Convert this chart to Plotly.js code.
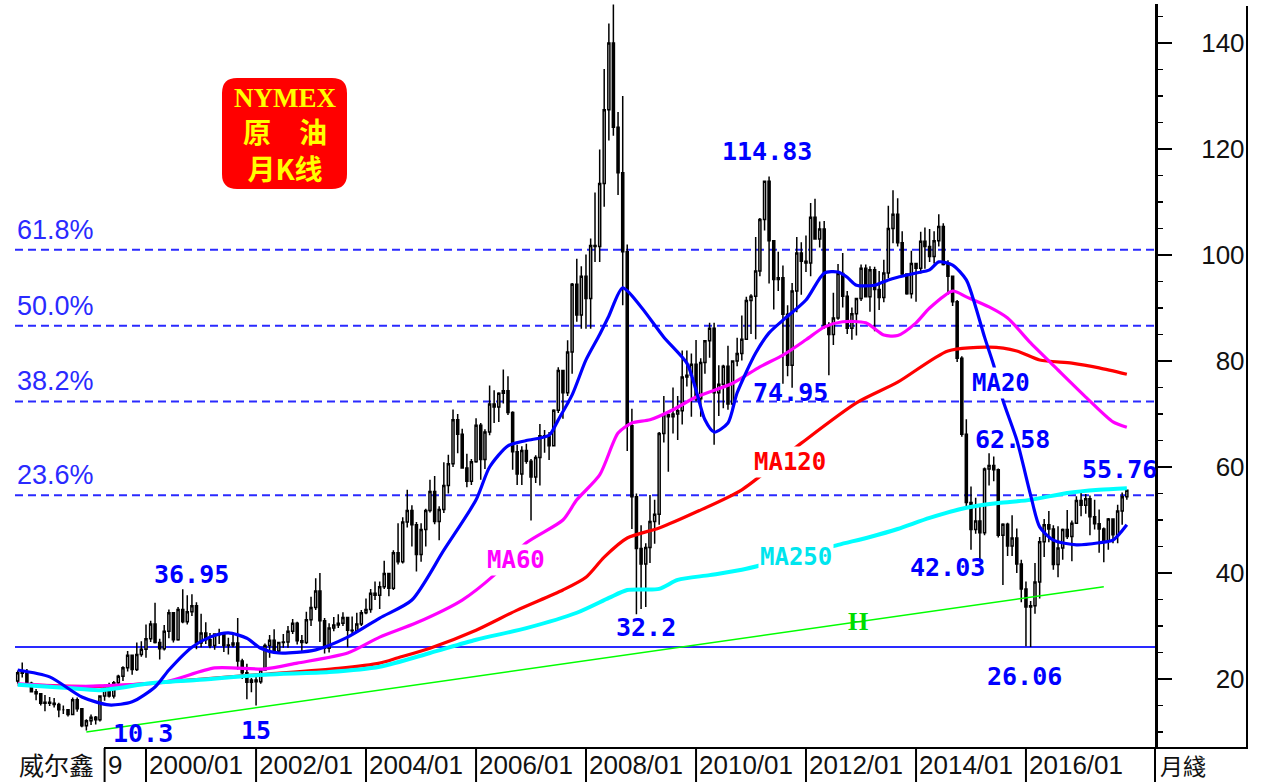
<!DOCTYPE html>
<html><head><meta charset="utf-8">
<script src="https://cdn.plot.ly/plotly-3.0.1.min.js"></script>
<style>html,body{margin:0;padding:0;background:#fff;}#chart{width:1264px;height:782px;}</style>
</head><body><div id="chart"></div>
<script>
// ---------------- DATA ----------------
const firstMonth = [1997, 9]; // first monthly candle: 1997/09
const opens = [
 19.6,21.2,21.1,19.2,
 17.6,17.2,15.4,15.6,15.4,15.2,14.2,14.2,13.3,16.1,14.4,11.2,
 12.1,12.8,12.3,16.8,18.7,16.8,19.3,20.5,22.1,24.5,21.8,24.6,
 25.6,27.6,30.4,26.9,25.7,29.0,32.5,27.4,33.1,30.8,32.7,33.8,
 26.8,28.7,27.4,26.3,28.5,28.4,26.3,26.4,26.8,23.4,21.2,19.4,
 19.8,19.5,21.7,26.3,27.3,25.3,26.9,27.0,29.0,30.5,27.2,26.9,
 31.2,33.5,36.6,31.0,25.8,29.6,30.2,30.5,31.6,29.2,29.1,30.4,
 32.5,33.1,36.2,35.8,37.4,39.9,37.1,43.8,42.1,49.6,51.8,49.1,
 43.5,48.2,51.8,55.4,49.7,52.0,56.5,60.6,68.9,66.2,59.8,57.3,
 61.0,67.9,61.4,66.6,71.9,71.3,73.9,74.4,70.3,62.9,58.7,63.1,
 61.1,58.1,61.8,65.9,65.7,64.0,70.7,78.2,74.0,81.7,94.5,88.7,
 96.0,91.8,101.8,101.6,113.5,127.4,140.0,124.1,115.5,100.6,67.8,54.4,
 44.6,41.7,44.8,49.7,51.1,66.3,69.9,69.5,70.0,70.6,77.0,77.3,
 79.4,72.9,79.7,83.8,86.2,74.0,75.6,79.0,71.9,80.0,81.4,84.1,
 91.4,92.2,97.0,106.7,113.9,102.7,95.4,95.7,88.8,79.2,93.2,100.4,
 98.8,98.5,107.1,103.0,104.9,86.5,85.0,88.1,96.5,92.2,86.2,88.9,
 91.8,97.5,92.1,97.2,93.5,92.0,96.6,105.0,107.7,102.3,96.4,92.7,
 98.4,97.5,102.6,101.6,99.7,102.7,105.4,98.2,96.0,91.2,80.5,66.2,
 53.3,48.2,49.8,47.6,59.6,60.3,59.5,47.1,49.2,45.1,46.6,41.7,
 37.0,33.6,33.8,38.3,45.9,49.1,48.3,41.6,44.7,48.2,46.9,49.4,
 53.7,52.8,54.0,50.6,49.3,48.3,46.0,50.2,47.2,51.7,54.4
];
const highs = [
 21.6,23.1,21.9,19.5,
 18.1,17.3,17.0,16.6,16.4,15.5,15.0,14.3,16.5,16.5,14.5,12.4,
 13.3,13.0,16.9,18.9,19.3,19.6,20.8,22.4,25.3,24.6,26.9,27.1,
 30.3,31.0,34.4,27.6,30.2,33.1,32.5,33.6,36.95,35.8,36.0,34.5,
 32.3,30.7,28.7,28.6,29.5,28.8,27.8,28.8,31.5,23.8,22.9,20.2,
 21.0,21.9,26.7,28.3,29.4,27.0,28.5,30.0,31.3,30.8,28.3,32.7,
 35.5,39.0,39.99,31.5,30.5,31.7,32.2,32.6,31.7,31.8,32.5,33.0,
 35.2,37.0,38.4,38.4,42.3,40.0,44.3,49.4,50.5,55.7,52.8,49.6,
 49.4,52.1,57.6,58.3,52.6,60.9,62.3,70.85,70.0,67.2,62.5,61.5,
 69.2,68.3,67.1,75.4,74.5,74.1,78.4,77.1,70.5,64.2,63.9,64.4,
 61.5,62.2,68.1,67.0,66.6,70.9,78.8,78.3,83.9,94.7,99.3,97.9,
 100.1,103.1,111.8,119.9,135.1,143.7,147.27,127.0,130.0,102.0,71.0,55.0,
 49.0,45.6,54.7,53.8,66.6,73.4,70.1,75.0,73.4,82.0,82.0,81.4,
 83.95,80.5,83.9,87.2,87.2,79.2,79.3,82.9,80.1,84.4,88.6,92.1,
 92.6,103.4,107.0,113.9,114.83,102.7,100.6,98.0,90.5,94.7,103.4,102.4,
 103.7,109.8,110.6,106.3,106.4,87.3,92.9,98.3,100.4,93.2,90.1,91.9,
 98.2,98.2,97.9,97.8,97.0,99.1,109.3,112.2,110.7,104.5,96.5,100.8,
 98.5,104.4,105.2,104.9,104.5,107.7,106.0,99.0,96.0,91.5,80.9,69.0,
 56.3,54.2,52.5,59.9,62.58,62.0,59.7,49.4,49.5,50.9,48.4,42.5,
 38.4,34.7,41.9,46.8,50.2,51.7,49.0,48.8,48.4,51.9,49.9,54.5,
 55.2,54.9,54.6,53.8,52.0,48.6,50.4,50.2,52.9,55.2,55.76
];
const lows = [
 19.1,20.3,18.9,17.5,
 16.0,15.0,13.9,14.9,14.6,12.8,13.4,12.9,13.2,13.8,10.9,10.3,
 11.3,11.4,12.0,15.9,16.5,16.3,19.0,19.6,21.4,20.8,21.5,24.2,
 24.0,27.0,26.7,23.7,25.4,27.7,26.9,27.2,30.5,30.3,31.9,25.6,
 26.0,26.6,25.8,25.5,26.6,25.1,24.6,26.0,21.8,20.0,16.2,17.5,
 15.0,19.1,21.6,24.0,24.8,24.7,25.9,25.9,28.5,26.5,25.0,26.6,
 30.0,33.0,27.0,24.8,25.0,29.0,29.6,30.0,26.0,28.4,28.7,30.0,
 32.2,32.5,34.9,33.2,37.0,35.6,36.8,41.6,41.8,48.6,45.0,40.3,
 42.1,45.0,51.4,49.2,46.2,51.3,55.0,60.0,62.6,59.8,56.2,56.6,
 60.8,57.6,59.6,66.0,68.3,68.5,72.0,69.8,59.5,56.6,56.6,60.6,
 49.9,57.0,56.5,62.7,61.3,64.0,70.2,69.1,73.4,77.6,87.4,86.1,
 86.1,86.1,98.7,98.7,109.1,121.6,122.5,111.3,90.5,63.0,48.3,32.2,
 33.2,33.6,41.9,45.5,49.1,64.6,59.1,66.3,65.1,68.0,75.2,69.5,
 72.4,69.5,77.6,80.6,64.2,69.6,71.1,70.8,70.8,79.0,80.1,84.1,
 85.1,84.1,96.0,104.6,94.6,89.7,93.2,75.7,77.1,74.95,89.2,92.5,
 96.8,96.0,102.9,101.4,86.1,77.3,83.0,87.8,90.1,85.1,84.0,84.8,
 91.3,92.0,89.3,85.6,89.6,91.1,95.6,102.2,101.6,96.1,92.5,91.8,
 91.2,96.5,97.4,98.7,98.4,101.6,98.0,92.5,90.4,79.8,65.7,52.4,
 44.4,47.4,42.03,47.1,56.5,57.3,46.7,37.75,43.2,43.2,40.0,34.5,
 26.19,26.06,32.3,35.2,43.0,45.8,40.6,39.2,42.5,46.4,42.2,49.4,
 50.7,51.2,47.1,48.2,43.8,42.05,44.4,45.6,45.6,49.1,53.8
];
const closes = [
 21.2,21.1,19.2,17.6,
 17.2,15.4,15.6,15.4,15.2,14.2,14.2,13.3,16.1,14.4,11.2,12.1,
 12.8,12.3,16.8,18.7,16.8,19.3,20.5,22.1,24.5,21.8,24.6,25.6,
 27.6,30.4,26.9,25.7,29.0,32.5,27.4,33.1,30.8,32.7,33.8,26.8,
 28.7,27.4,26.3,28.5,28.4,26.3,26.4,26.8,23.4,21.2,19.4,19.8,
 19.5,21.7,26.3,27.3,25.3,26.9,27.0,29.0,30.5,27.2,26.9,31.2,
 33.5,36.6,31.0,25.8,29.6,30.2,30.5,31.6,29.2,29.1,30.4,32.5,
 33.1,36.2,35.8,37.4,39.9,37.1,43.8,42.1,49.6,51.8,49.1,43.5,
 48.2,51.8,55.4,49.7,52.0,56.5,60.6,68.9,66.2,59.8,57.3,61.0,
 67.9,61.4,66.6,71.9,71.3,73.9,74.4,70.3,62.9,58.7,63.1,61.1,
 58.1,61.8,65.9,65.7,64.0,70.7,78.2,74.0,81.7,94.5,88.7,96.0,
 91.8,101.8,101.6,113.5,127.4,140.0,124.1,115.5,100.6,67.8,54.4,44.6,
 41.7,44.8,49.7,51.1,66.3,69.9,69.5,70.0,70.6,77.0,77.3,79.4,
 72.9,79.7,83.8,86.2,74.0,75.6,79.0,71.9,80.0,81.4,84.1,91.4,
 92.2,97.0,106.7,113.9,102.7,95.4,95.7,88.8,79.2,93.2,100.4,98.8,
 98.5,107.1,103.0,104.9,86.5,85.0,88.1,96.5,92.2,86.2,88.9,91.8,
 97.5,92.1,97.2,93.5,92.0,96.6,105.0,107.7,102.3,96.4,92.7,98.4,
 97.5,102.6,101.6,99.7,102.7,105.4,98.2,96.0,91.2,80.5,66.2,53.3,
 48.2,49.8,47.6,59.6,60.3,59.5,47.1,49.2,45.1,46.6,41.7,37.0,
 33.6,33.8,38.3,45.9,49.1,48.3,41.6,44.7,48.2,46.9,49.4,53.7,
 52.8,54.0,50.6,49.3,48.3,46.0,50.2,47.2,51.7,54.4,55.6
];

// moving averages
const ma20Months = ['1997-09','1998-04','1998-11','1999-05','1999-10','2000-03','2000-06','2000-11','2001-03','2001-07','2001-11','2002-02','2002-06','2003-02','2003-09','2004-04','2004-11','2005-06','2006-01','2006-04','2006-08','2006-12','2007-05','2007-07','2007-10','2008-01','2008-04','2008-06','2008-09','2009-01','2009-06','2009-11','2010-01','2010-03','2010-05','2010-08','2010-10','2011-02','2011-05','2011-08','2012-01','2012-05','2012-08','2012-10','2012-12','2013-04','2013-07','2013-09','2014-01','2014-04','2014-06','2014-09','2014-12','2015-02','2015-04','2015-06','2015-08','2015-11','2016-02','2016-04','2016-07','2016-12','2017-05','2017-08','2017-11'];
const ma20Values = [21.7,20.4,16.6,15.1,15.7,18.5,21.7,26.0,27.9,28.7,27.7,25.8,24.9,25.5,27.9,31.5,34.9,44.3,53.8,60.0,64.0,65.0,66.0,68.9,73.6,80.2,85.0,88.5,93.8,90.2,84.5,79.6,74.5,68.9,66.6,68.3,74.0,81.5,85.3,87.7,91.5,96.6,96.8,95.8,94.3,94.3,95.3,95.8,96.6,97.2,98.7,98.1,95.3,90.2,84.5,79.2,72.6,65.1,54.7,48.7,46.2,45.3,45.7,46.2,49.1];

const ma60Months = ['1997-09','1998-08','1999-03','2000-05','2001-04','2002-03','2002-10','2003-09','2004-04','2004-12','2005-10','2006-05','2006-12','2007-08','2007-11','2008-04','2008-08','2008-11','2009-03','2009-08','2010-01','2010-09','2011-03','2011-08','2012-01','2012-05','2012-09','2013-02','2013-06','2013-09','2014-01','2014-04','2014-09','2014-12','2015-05','2015-09','2016-02','2016-08','2017-02','2017-08','2017-11'];
const ma60Values = [19.1,18.6,18.7,19.4,22.1,21.9,23.0,24.9,27.9,30.6,34.9,39.6,45.7,50.0,53.8,58.5,66.4,68.3,68.9,70.8,73.2,75.8,78.9,81.1,84.0,86.4,87.4,87.2,84.9,84.8,87.2,90.0,93.2,92.1,90.2,88.1,83.4,78.3,73.2,68.5,67.5];

const ma120Months = ['1997-09','1999-03','2000-12','2002-03','2003-07','2004-04','2004-08','2005-03','2006-01','2006-10','2007-08','2008-01','2008-05','2008-10','2009-05','2010-01','2010-11','2011-12','2012-12','2013-09','2014-08','2015-05','2015-11','2016-04','2016-11','2017-05','2017-11'];
const ma120Values = [19.0,18.6,19.9,20.9,22.0,23.0,24.0,25.8,29.2,33.0,36.8,39.2,43.0,46.6,48.5,51.5,55.7,64.5,72.1,76.0,81.9,82.6,81.9,80.2,79.6,78.7,77.5];

const ma250Months = ['1997-09','1998-08','1999-03','2000-02','2000-12','2002-03','2003-05','2004-04','2005-03','2006-01','2006-12','2007-11','2008-06','2008-10','2009-05','2009-09','2010-04','2010-11','2012-08','2013-03','2013-09','2014-04','2014-12','2015-07','2016-02','2016-10','2017-05','2017-11'];
const ma250Values = [18.9,18.3,17.9,19.2,19.8,20.8,21.3,22.3,24.9,27.4,29.6,32.5,35.3,36.8,37.0,38.7,39.6,40.6,45.3,46.8,48.3,50.4,52.3,53.2,53.8,55.1,55.7,56.0];

// green trend line (two anchor points)
const trendMonths = ['1998-12','2017-06'];
const trendValues = [10.0, 37.4];

// Fibonacci retracement between the 2016 low and the 2008 high
const fibLow = 26.06, fibHigh = 147.27;
const fibRatios = [0.236, 0.382, 0.5, 0.618];
const fibLabels = ['23.6%', '38.2%', '50.0%', '61.8%'];

// bottom axis
const tickDates = ['1999-04','2000-01','2002-01','2004-01','2006-01','2008-01','2010-01','2012-01','2014-01','2016-01'];
const tickLabels = ['9','2000/01','2002/01','2004/01','2006/01','2008/01','2010/01','2012/01','2014/01','2016/01'];
const yTicks = [20, 40, 60, 80, 100, 120, 140];

// ---------------- BUILD ----------------
const dates = [];
for (let i = 0; i < closes.length; i++) {
  const t = (firstMonth[0] * 12 + firstMonth[1] - 1) + i;
  const y = Math.floor(t / 12), m = t % 12 + 1;
  dates.push(y + '-' + (m < 10 ? '0' + m : m));
}

// plot area in pixels (for layout-only placements)
const P = {l: 15, t: 4, w: 1140, h: 744};
const px = x => (x - P.l) / P.w;
const py = y => (P.t + P.h - y) / P.h;

const lineTrace = (xs, ys, color, width) => ({
  type: 'scatter', mode: 'lines', x: xs, y: ys,
  line: {color: color, width: width, shape: 'spline', smoothing: 0.7},
  hoverinfo: 'skip', showlegend: false
});

const traces = [
  {type: 'candlestick', x: dates, open: opens, high: highs, low: lows, close: closes,
   increasing: {line: {color: '#000', width: 1.5}, fillcolor: '#ffffff'},
   decreasing: {line: {color: '#000', width: 1.5}, fillcolor: '#000000'},
   whiskerwidth: 0, hoverinfo: 'skip', showlegend: false},
  {type: 'scatter', mode: 'lines', x: trendMonths, y: trendValues,
   line: {color: '#00ff00', width: 1.6}, hoverinfo: 'skip', showlegend: false},
  lineTrace(ma120Months, ma120Values, '#ff0000', 3.2),
  lineTrace(ma60Months, ma60Values, '#ff00ff', 3.2),
  lineTrace(ma250Months, ma250Values, '#00ffff', 4),
  lineTrace(ma20Months, ma20Values, '#0000ff', 3.2)
];

const FIB_BLUE = '#2a2aff';
const shapes = [];
const annotations = [];

fibRatios.forEach((r, i) => {
  const lvl = fibLow + r * (fibHigh - fibLow);
  shapes.push({type: 'line', xref: 'paper', yref: 'y', x0: 0, x1: 1, y0: lvl, y1: lvl,
    line: {color: FIB_BLUE, width: 2, dash: '8px,5px'}, layer: 'below'});
  annotations.push({xref: 'paper', yref: 'y', x: 0, y: lvl, xanchor: 'left', yanchor: 'bottom',
    yshift: 3, text: fibLabels[i], showarrow: false,
    font: {family: 'Liberation Sans, Arial, sans-serif', size: 27, color: FIB_BLUE}});
});
// support line at the 2016 low
shapes.push({type: 'line', xref: 'paper', yref: 'y', x0: 0, x1: 1, y0: fibLow, y1: fibLow,
  line: {color: FIB_BLUE, width: 2}, layer: 'below'});

// bottom strip frame
shapes.push({type: 'line', xref: 'paper', yref: 'paper', x0: px(104), x1: px(1248), y0: 0, y1: 0,
  line: {color: '#000', width: 2}});
tickDates.forEach((d, i) => {
  shapes.push({type: 'line', xref: 'x', yref: 'paper', x0: d, x1: d, y0: 0, y1: py(782),
    line: {color: '#000', width: 2}});
  annotations.push({xref: 'x', yref: 'paper', x: d, y: py(765), xanchor: 'left', yanchor: 'middle',
    xshift: 1, text: tickLabels[i], showarrow: false,
    font: {family: 'Liberation Sans, Arial, sans-serif', size: 26, color: '#111'}});
});
shapes.push({type: 'line', xref: 'paper', yref: 'paper', x0: 1, x1: 1, y0: 0, y1: py(782),
  line: {color: '#000', width: 2}});
// right frame of the price scale
shapes.push({type: 'line', xref: 'paper', yref: 'paper', x0: px(1247), x1: px(1247), y0: 0, y1: py(6),
  line: {color: '#000', width: 2}});

annotations.push({xref: 'paper', yref: 'paper', x: px(57), y: py(764), xanchor: 'center', yanchor: 'middle',
  text: '威尔鑫', showarrow: false, font: {family: 'Noto Sans CJK SC, sans-serif', size: 25, color: '#111'}});
annotations.push({xref: 'paper', yref: 'paper', x: px(1158), y: py(765), xanchor: 'left', yanchor: 'middle',
  text: '月綫', showarrow: false, font: {family: 'Noto Sans CJK TC, sans-serif', size: 23, color: '#111'}});

// red title badge
(function () {
  const x0 = px(222), x1 = px(347), yT = py(78), yB = py(189);
  const rx = 15 / P.w, ry = 15 / P.h;
  const path = `M ${x0 + rx},${yT} L ${x1 - rx},${yT} Q ${x1},${yT} ${x1},${yT - ry} L ${x1},${yB + ry} Q ${x1},${yB} ${x1 - rx},${yB} L ${x0 + rx},${yB} Q ${x0},${yB} ${x0},${yB + ry} L ${x0},${yT - ry} Q ${x0},${yT} ${x0 + rx},${yT} Z`;
  shapes.push({type: 'path', xref: 'paper', yref: 'paper', path: path, fillcolor: '#ff0000', line: {width: 0}});
  annotations.push({xref: 'paper', yref: 'paper', x: px(285), y: py(136), xanchor: 'center', yanchor: 'middle',
    text: '<span style="font-family:Liberation Serif, serif;font-size:27px"><b>NYMEX</b></span><br><b>原　油</b><br><b>月K线</b>',
    showarrow: false, align: 'center',
    font: {family: 'Noto Sans CJK SC, sans-serif', size: 28, color: '#ffff00'}});
})();

// value labels
const NUM_FONT = {family: 'DejaVu Sans Mono, monospace', size: 25, color: '#0000ff', weight: 'bold'};
[
  ['36.95', '2000-11-01', 39.8], ['10.3', '1999-12-15', 9.8], ['15', '2002-01-01', 10.2],
  ['32.2', '2009-02-01', 29.8], ['114.83', '2011-04-15', 119.6], ['74.95', '2011-09-20', 74.0],
  ['62.58', '2015-10-01', 65.1], ['42.03', '2014-08-01', 41.1], ['26.06', '2015-12-20', 20.4],
  ['55.76', '2017-09-15', 59.6]
].forEach(a => annotations.push({x: a[1], y: a[2], text: a[0], showarrow: false,
  xanchor: 'center', yanchor: 'middle', font: NUM_FONT}));

// moving-average labels
[
  ['MA60', '2006-09-20', 42.5, '#ff00ff'], ['MA120', '2011-09-20', 61.0, '#ff0000'],
  ['MA250', '2011-10-25', 43.0, '#00e5ee'], ['MA20', '2015-07-18', 75.8, '#0000ff']
].forEach(a => annotations.push({x: a[1], y: a[2], text: a[0], showarrow: false,
  xanchor: 'center', yanchor: 'middle', bgcolor: '#ffffff', borderpad: 1,
  font: {family: 'DejaVu Sans Mono, monospace', size: 24, color: a[3], weight: 'bold'}}));
annotations.push({x: '2012-12-12', y: 30.8, text: 'H', showarrow: false, xanchor: 'center', yanchor: 'middle',
  font: {family: 'Liberation Serif, serif', size: 26, color: '#00dd00', weight: 'bold'}});

const layout = {
  width: 1264, height: 782,
  margin: {l: P.l, r: 1264 - P.l - P.w, t: P.t, b: 782 - P.t - P.h},
  paper_bgcolor: '#ffffff', plot_bgcolor: '#ffffff',
  showlegend: false, hovermode: false, dragmode: false,
  xaxis: {type: 'date', range: ['1997-08-14', '2018-05-07'], showticklabels: false, ticks: '',
    showgrid: false, zeroline: false, showline: false, rangeslider: {visible: false}, fixedrange: true},
  yaxis: {side: 'right', range: [6.98, 147.36], tickvals: yTicks,
    ticktext: yTicks.map(v => (v < 100 ? '\u00a0\u00a0' : '') + v),
    tickfont: {family: 'Liberation Sans, Arial, sans-serif', size: 26, color: '#111'},
    ticks: 'outside', ticklen: 14, tickwidth: 2, tickcolor: '#000', ticklabelstandoff: 24,
    minor: {ticks: 'outside', ticklen: 5, tickwidth: 1.5, tickcolor: '#000', dtick: 5, showgrid: false},
    showline: true, linewidth: 3, linecolor: '#000', showgrid: false, zeroline: false, fixedrange: true},
  shapes: shapes, annotations: annotations
};

Plotly.newPlot('chart', traces, layout, {displayModeBar: false, staticPlot: true});
</script>
</body></html>
